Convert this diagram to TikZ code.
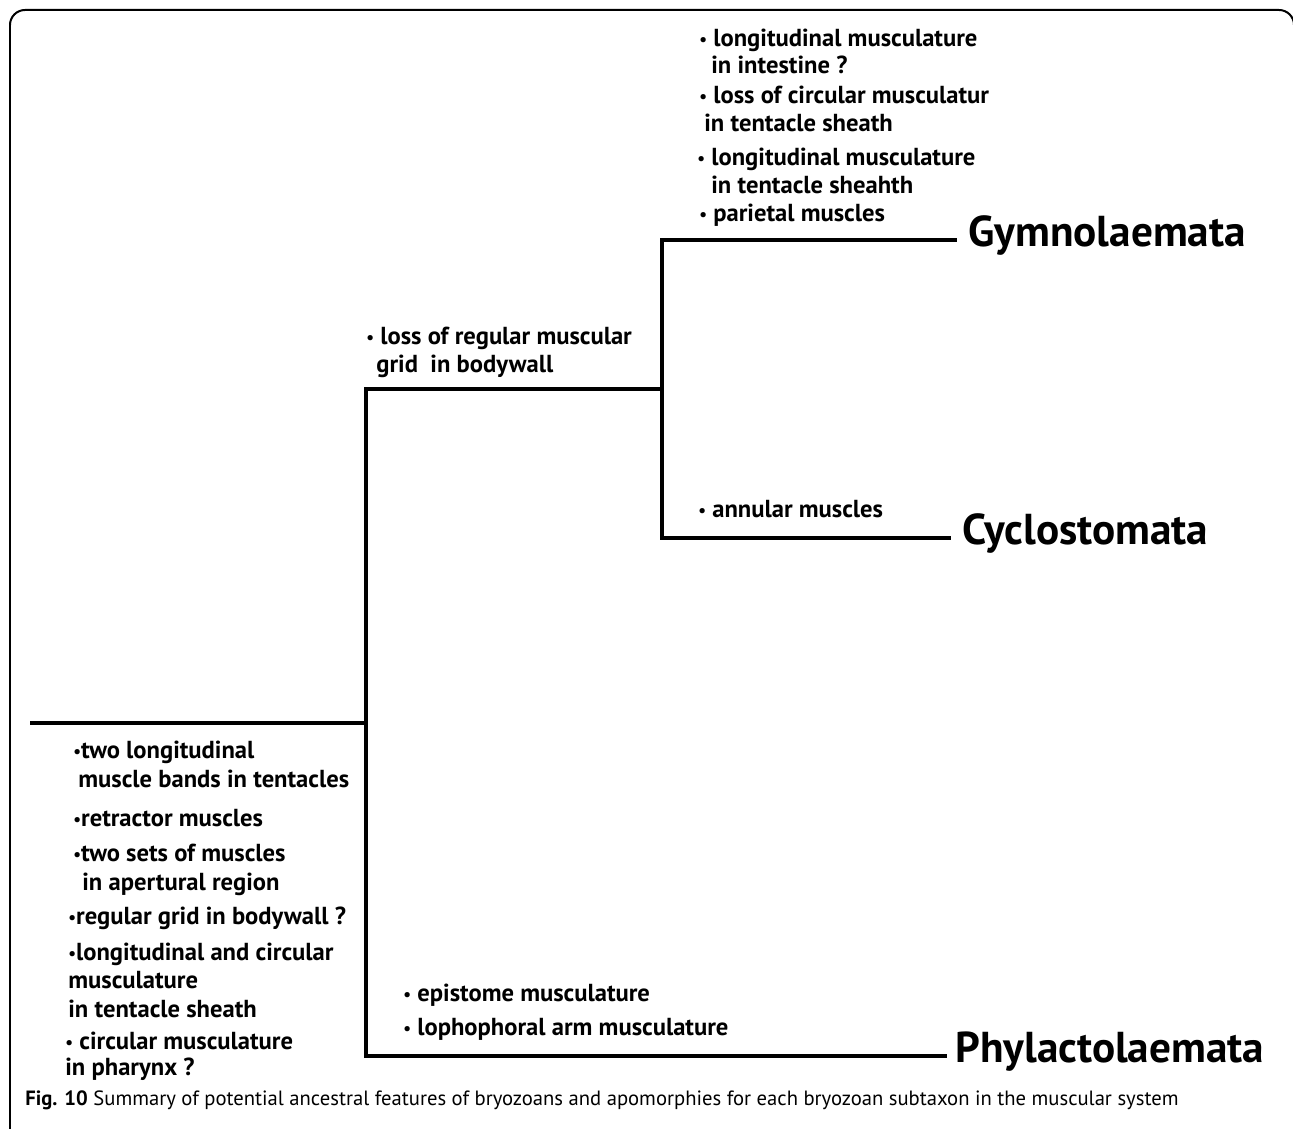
\documentclass[tikz,border=0pt]{standalone}
\usepackage{fontspec}
\setmainfont{PT Sans}
\newcommand\bul{\raisebox{0.03em}{\scalebox{0.7}{•}}}
\begin{document}
\begin{tikzpicture}[x=0.02cm,y=-0.02cm,
  tree/.style={line width=0.08cm, line join=miter, line cap=rect},
  feat/.style={font=\bfseries\fontsize{14}{16}\selectfont, anchor=west, inner sep=0pt, text height=0.72em, text depth=0pt},
  taxon/.style={font=\bfseries\fontsize{24.6}{28}\selectfont, anchor=west, inner sep=0pt, text height=0.72em, text depth=0pt},
  capt/.style={font=\fontsize{11.75}{13}\selectfont, anchor=west, inner sep=0pt, text height=0.72em, text depth=0pt}]
\useasboundingbox (0,0) rectangle (1293,1128);
\clip (0,0) rectangle (1293,1128);
% frame
\draw[line width=0.04cm, rounded corners=0.3cm] (10,1140) -- (10,10) -- (1294,10) -- (1294,1140);
% taxa
\node[taxon] (gym) at (968,240) {Gymnolaemata};
\node[taxon] (cyc) at (962,538) {Cyclostomata};
\node[taxon] (phy) at (955,1056) {Phylactolaemata};
% tree
\coordinate (r) at (32,723);
\coordinate (a) at (366,723);
\coordinate (b) at (662,389);
\draw[tree] ([xshift=-0.26cm]gym.west) -| (b) |- ([xshift=-0.26cm]cyc.west);
\draw[tree] (b) -| (a) |- ([xshift=-0.2cm]phy.west);
\draw[tree] (r) -- (a);
% Gymnolaemata features
\node[feat] (g1) at (699,40) {\bul{} longitudinal musculature};
\node[feat] (g2) at (711,67) {in intestine ?};
\node[feat] (g3) at (699,97) {\bul{} loss of circular musculatur};
\node[feat] (g4) at (704,125) {in tentacle sheath};
\node[feat] (g5) at (697,159) {\bul{} longitudinal musculature};
\node[feat] (g6) at (711,187) {in tentacle sheahth};
\node[feat] (g7) at (699,215) {\bul{} parietal muscles};
% Gymnolaemata + Cyclostomata
\node[feat] (m1) at (366,338) {\bul{} loss of regular muscular};
\node[feat] (m2) at (376,366) {grid\ \ in bodywall};
% Cyclostomata
\node[feat] (c1) at (698,511) {\bul{} annular muscles};
% Phylactolaemata
\node[feat] (p1) at (403,995) {\bul{} epistome musculature};
\node[feat] (p2) at (403,1029) {\bul{} lophophoral arm musculature};
% ancestral
\node[feat] (s1) at (73,752) {\bul two longitudinal};
\node[feat] (s2) at (78,781) {muscle bands in tentacles};
\node[feat] (s3) at (73,820) {\bul retractor muscles};
\node[feat] (s4) at (73,855) {\bul two sets of muscles};
\node[feat] (s5) at (82,884) {in apertural region};
\node[feat] (s6) at (68,918) {\bul regular grid in bodywall ?};
\node[feat] (s7) at (68,954) {\bul longitudinal and circular};
\node[feat] (s8) at (68,982) {musculature};
\node[feat] (s9) at (68,1011) {in tentacle sheath};
\node[feat] (s10) at (65,1043) {\bul{} circular musculature};
\node[feat] (s11) at (65,1069) {in pharynx ?};
% caption
\node[capt] (cap) at (25,1099) {\textbf{Fig. 10} Summary of potential ancestral features of bryozoans and apomorphies for each bryozoan subtaxon in the muscular system};
\end{tikzpicture}
\end{document}
